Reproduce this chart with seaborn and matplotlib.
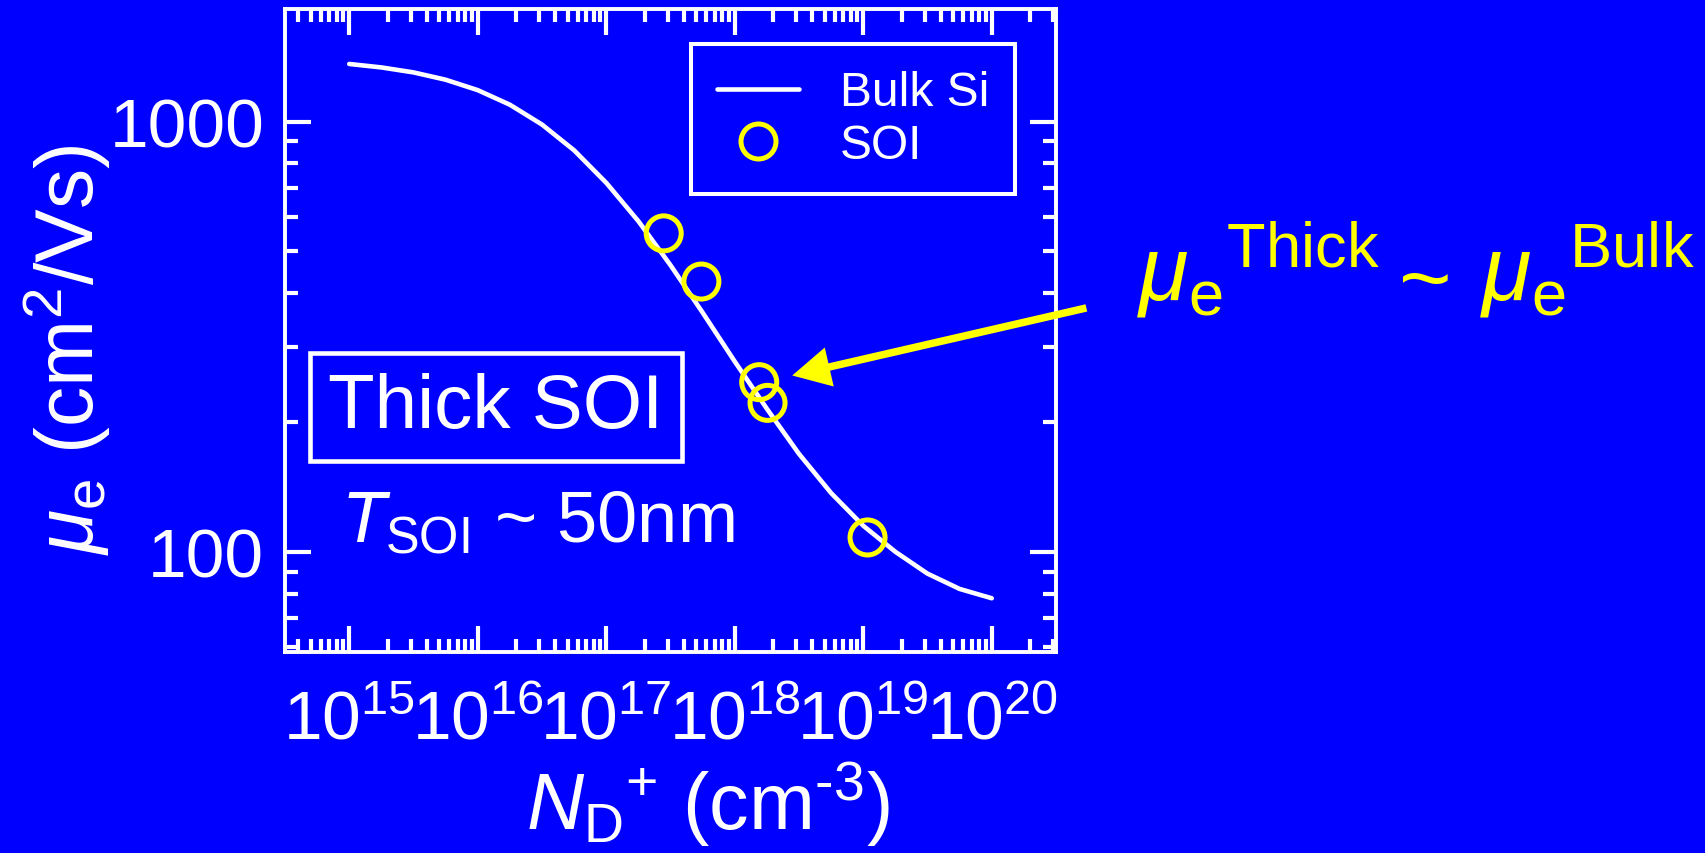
import numpy as np
import pandas as pd
import matplotlib
matplotlib.use("Agg")
import matplotlib.pyplot as plt
import seaborn as sns
from matplotlib.lines import Line2D
from matplotlib.ticker import FixedLocator, FixedFormatter, LogLocator, NullFormatter

# Bulk Si electron mobility versus ionised donor concentration
bulk_doping = [1.00e15, 1.78e15, 3.16e15, 5.62e15, 1.00e16, 1.78e16, 3.16e16,
               5.62e16, 1.00e17, 1.78e17, 3.16e17, 5.62e17, 1.00e18, 1.78e18,
               3.16e18, 5.62e18, 1.00e19, 1.78e19, 3.16e19, 5.62e19, 1.00e20]
bulk_mobility = [1362, 1337, 1302, 1252, 1184, 1095, 985,
                 858, 721, 587, 464, 360, 277, 215,
                 169, 137, 115, 100, 89, 82, 78]

# Measured thick-SOI electron mobility
soi_doping = [2.8e17, 5.5e17, 1.55e18, 1.8e18, 1.08e19]
soi_mobility = [550, 425, 248, 222, 108]

x_ticks = [1e15, 1e16, 1e17, 1e18, 1e19, 1e20]
x_tick_labels = [r"$10^{15}$", r"$10^{16}$", r"$10^{17}$",
                 r"$10^{18}$", r"$10^{19}$", r"$10^{20}$"]
y_ticks = [100, 1000]
y_tick_labels = ["100", "1000"]

BLUE = "#0000FF"
YELLOW = "#FFFF00"
WHITE = "#FFFFFF"

sns.set_theme(style="ticks")
plt.rcParams["font.family"] = ["Liberation Sans", "DejaVu Sans"]
plt.rcParams["mathtext.fontset"] = "custom"
plt.rcParams["mathtext.rm"] = "Liberation Sans"
plt.rcParams["mathtext.it"] = "Liberation Sans:italic"
plt.rcParams["mathtext.bf"] = "Liberation Sans:bold"
plt.rcParams["mathtext.sf"] = "Liberation Sans"

W, H = 1706, 854
fig = plt.figure(figsize=(W / 100, H / 100), dpi=100, facecolor=BLUE)
ax = fig.add_axes([285 / W, 1 - 653 / H, 771 / W, 643 / H])
ax.set_facecolor(BLUE)
ax.set_xscale("log")
ax.set_yscale("log")

bulk = pd.DataFrame({"N": bulk_doping, "mu": bulk_mobility})
soi = pd.DataFrame({"N": soi_doping, "mu": soi_mobility})

sns.lineplot(data=bulk, x="N", y="mu", ax=ax, color=WHITE, linewidth=3.3,
             legend=False, zorder=2)
sns.scatterplot(data=soi, x="N", y="mu", ax=ax, marker="o", s=635,
                facecolor="none", edgecolor=YELLOW, linewidth=3.6,
                legend=False, zorder=3)

ax.set_xlim(10 ** 14.5, 10 ** 20.5)
ax.set_ylim(58.5, 1828)

ax.xaxis.set_major_locator(FixedLocator(x_ticks))
ax.xaxis.set_major_formatter(FixedFormatter(x_tick_labels))
ax.yaxis.set_major_locator(FixedLocator(y_ticks))
ax.yaxis.set_major_formatter(FixedFormatter(y_tick_labels))
for axis in (ax.xaxis, ax.yaxis):
    axis.set_minor_locator(LogLocator(base=10, subs=np.arange(2, 10), numticks=100))
    axis.set_minor_formatter(NullFormatter())

ax.tick_params(which="both", direction="in", top=True, right=True,
               colors=WHITE, labelcolor=WHITE)
ax.tick_params(which="major", length=19, width=3)
ax.tick_params(which="minor", length=9.5, width=3)
ax.tick_params(axis="x", which="major", labelsize=50, pad=26)
ax.tick_params(axis="y", which="major", labelsize=50, pad=15)
for spine in ax.spines.values():
    spine.set_color(WHITE)
    spine.set_linewidth(2.8)

ax.set_xlabel("$N_{\\mathrm{D}}{}^{+}$ (cm$^{\u2010\\mathrm{3}}$)", fontsize=57, color=WHITE)
ax.xaxis.set_label_coords(0.5486, -0.166)
ax.set_ylabel(r"$\mu_{\mathrm{e}}$ (cm$^{2}$/Vs)", fontsize=58, color=WHITE)
ax.yaxis.set_label_coords(-0.2244, 0.471)

# Legend
handles = [
    Line2D([], [], color=WHITE, linewidth=3.3),
    Line2D([], [], linestyle="none", marker="o", markersize=25.2,
           markerfacecolor="none", markeredgecolor=YELLOW, markeredgewidth=3.6),
]
leg = ax.legend(handles, ["Bulk Si", "SOI"], loc="upper center",
                bbox_to_anchor=(0.737, 0.9456), borderaxespad=0,
                frameon=True, fancybox=False, framealpha=1,
                facecolor=BLUE, edgecolor=WHITE, fontsize=34.5,
                handlelength=1.7, handletextpad=0.85, borderpad=0.55,
                labelspacing=0.16, labelcolor=WHITE)
leg.get_frame().set_linewidth(2.9)

# Sample description
ax.text(0.2737, 0.381, "Thick SOI", transform=ax.transAxes, ha="center",
        va="center", fontsize=55, color=WHITE,
        bbox=dict(boxstyle="square,pad=0.24", facecolor=BLUE, edgecolor=WHITE,
                  linewidth=3.3))
ax.text(0.072, 0.1726, r"$T_{\mathrm{SOI}}$ ~ 50nm", transform=ax.transAxes,
        ha="left", va="baseline", fontsize=52, color=WHITE)

# Comparison callout
ax.annotate("", xy=(2.8e18, 257), xytext=(5.45e20, 369),
            xycoords="data", textcoords="data", annotation_clip=False,
            arrowprops=dict(arrowstyle="simple,head_length=0.76,head_width=0.8,tail_width=0.15",
                            mutation_scale=36, linewidth=0, facecolor=YELLOW,
                            edgecolor="none", shrinkA=0, shrinkB=0))
base_y = 1 - 301 / H
fig.text(1137 / W, base_y, r"$\mu_{\mathrm{e}}{}^{\mathrm{Thick}}$",
         fontsize=65, color=YELLOW, ha="left", va="baseline")
fig.text(1425 / W, 1 - 309 / H, "~", fontsize=65, color=YELLOW,
         ha="center", va="baseline")
fig.text(1480 / W, base_y, r"$\mu_{\mathrm{e}}{}^{\mathrm{Bulk}}$",
         fontsize=65, color=YELLOW, ha="left", va="baseline")

fig.savefig("out.png", dpi=100, facecolor=BLUE)
